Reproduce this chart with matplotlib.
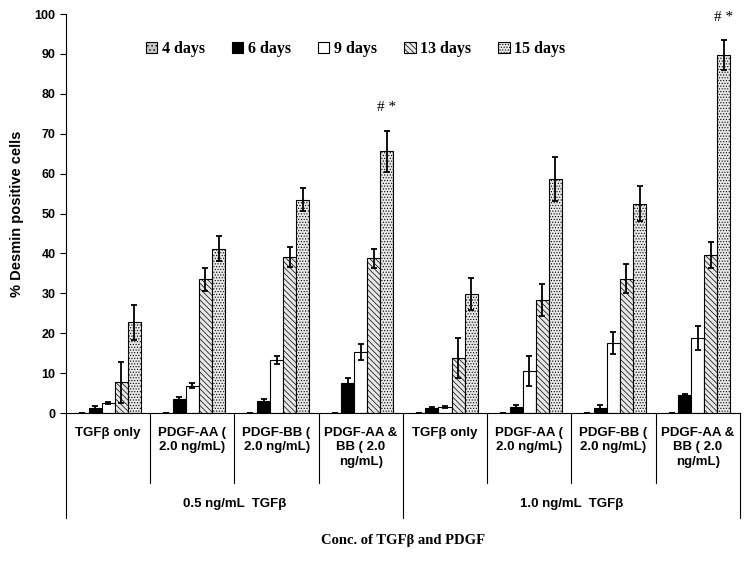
import numpy as np
import matplotlib.pyplot as plt
import matplotlib.transforms as mtransforms

# categories (inner level) and outer groups
categories = ["TGF\u03b2 only", "PDGF-AA (\n2.0 ng/mL)", "PDGF-BB (\n2.0 ng/mL)", "PDGF-AA &\nBB ( 2.0\nng/mL)"] * 2
groups = ["0.5 ng/mL  TGF\u03b2", "1.0 ng/mL  TGF\u03b2"]
series = ["4 days", "6 days", "9 days", "13 days", "15 days"]

d4 = [0, 0, 0, 0, 0, 0, 0, 0]
d6 = [1.2, 3.6, 3.0, 7.6, 1.3, 1.4, 1.3, 4.5]
d9 = [2.5, 6.9, 13.3, 15.3, 1.5, 10.6, 17.5, 18.7]
d13 = [7.7, 33.5, 39.1, 38.8, 13.7, 28.3, 33.7, 39.6]
d15 = [22.7, 41.2, 53.5, 65.6, 29.8, 58.6, 52.5, 89.7]

e4 = [0, 0, 0, 0, 0, 0, 0, 0]
e6 = [0.5, 0.5, 0.6, 1.1, 0.2, 0.5, 0.7, 0.2]
e9 = [0.3, 0.7, 1.0, 2.1, 0.2, 3.7, 2.8, 3.0]
e13 = [5.2, 2.8, 2.5, 2.4, 5.0, 4.0, 3.7, 3.3]
e15 = [4.5, 3.1, 2.8, 5.2, 4.0, 5.5, 4.4, 3.7]

values = [d4, d6, d9, d13, d15]
errors = [e4, e6, e9, e13, e15]

faces = ["#c8c8c8", "black", "white", "#e8e8e8", "#e8e8e8"]
hatches = ["....", None, None, "\\\\\\\\\\\\", "......"]

plt.rcParams['hatch.linewidth'] = 0.5

fig = plt.figure(figsize=(7.51, 5.62), dpi=100)
ax = fig.add_axes([0.088, 0.265, 0.897, 0.71])

x = np.arange(len(categories))
w = 0.155
for i, (name, v, e) in enumerate(zip(series, values, errors)):
    ax.bar(x + (i - 2) * w, v, w, color=faces[i], edgecolor="black",
           linewidth=0.8, hatch=hatches[i], label=name,
           yerr=e, error_kw=dict(ecolor="black", elinewidth=1.3, capsize=2.5, capthick=1.3))

# significance marks
ax.text(3 + 2 * w, 75, "# *", ha="center", va="bottom", fontsize=11, family="Liberation Serif")
ax.text(7 + 2 * w, 97.5, "# *", ha="center", va="bottom", fontsize=11, family="Liberation Serif")

ax.set_xlim(-0.5, 7.5)
ax.set_ylim(0, 100)
ax.set_yticks(range(0, 101, 10))
for t in ax.get_yticklabels():
    t.set_fontweight("bold")
    t.set_fontfamily("Liberation Sans")
    t.set_fontsize(9)
ax.tick_params(axis="y", direction="out", length=4)
ax.set_xticks([])
ax.spines["top"].set_visible(False)
ax.spines["right"].set_visible(False)
ax.set_ylabel("% Desmin positive cells", fontweight="bold", fontsize=10.5,
              family="Liberation Sans", labelpad=8)

# two-level category axis
trans = mtransforms.blended_transform_factory(ax.transData, ax.transAxes)
for b in np.arange(-0.5, 8, 1.0):
    bottom = -0.263 if b in (-0.5, 3.5, 7.5) else -0.175
    ax.plot([b, b], [0, bottom], color="black", lw=0.8, transform=trans, clip_on=False)
for xi, lab in zip(x, categories):
    ax.text(xi, -0.035, lab, transform=trans, ha="center", va="top", fontsize=9.5,
            fontweight="bold", family="Liberation Sans", linespacing=1.25)
for gi, g in enumerate(groups):
    ax.text(1.5 + 4 * gi, -0.228, g, transform=trans, ha="center", va="center",
            fontsize=9.5, fontweight="bold", family="Liberation Sans")
ax.text(3.5, -0.32, "Conc. of TGF\u03b2 and PDGF", transform=trans, ha="center",
        va="center", fontsize=10.5, fontweight="bold", family="Liberation Serif")

ax.legend(loc="center", bbox_to_anchor=(0.43, 0.912), ncol=5, frameon=False,
          handlelength=0.7, handleheight=0.7, handletextpad=0.3, columnspacing=1.7,
          prop=dict(family="Liberation Serif", weight="bold", size=11.5))

fig.savefig("out.png", dpi=100)
